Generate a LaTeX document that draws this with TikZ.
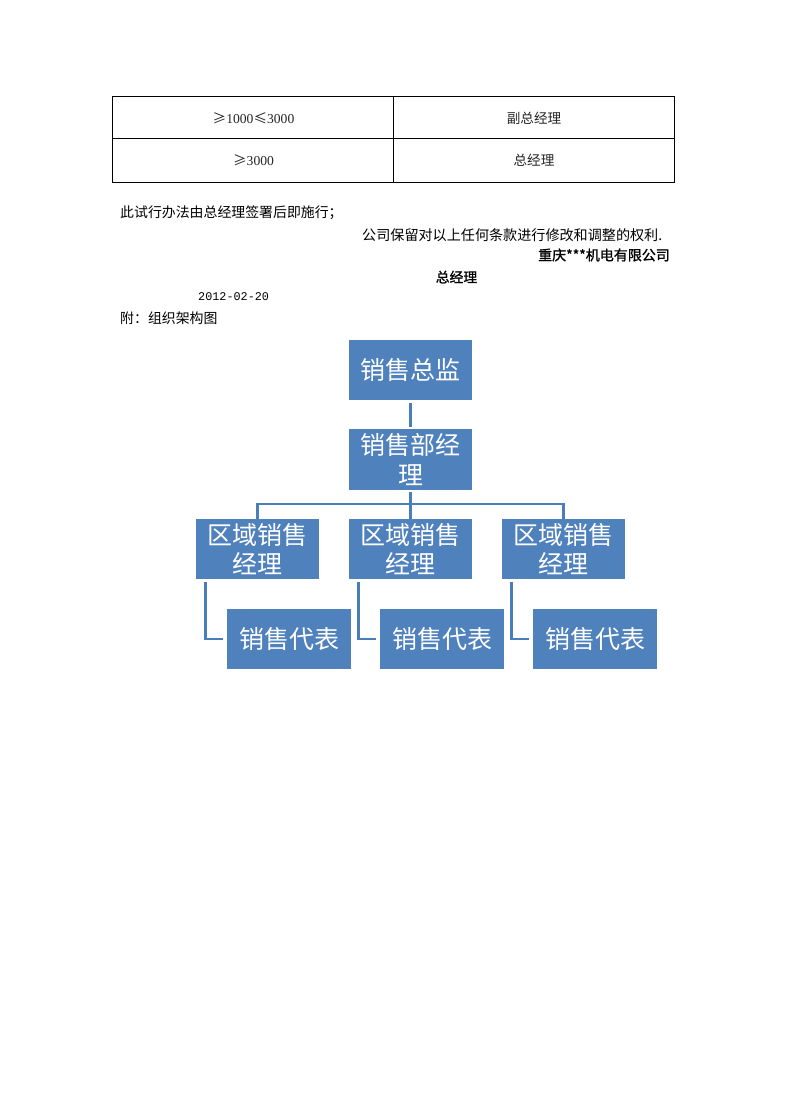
\documentclass[tikz,border=0pt]{standalone}
\usepackage{fontspec}
\setmainfont{Liberation Serif}
\newfontfamily\cjk{Noto Sans CJK SC}
\newfontfamily\cjkb[FakeBold=1.2]{Noto Sans CJK SC}
\newfontfamily\monodig{Liberation Mono}
\definecolor{boxblue}{HTML}{4F81BD}
\definecolor{lineblue}{HTML}{4A7EBB}
\begin{document}
\begin{tikzpicture}[x=1pt,y=-1pt,
  box/.style={fill=boxblue, draw=none, minimum width=123pt, minimum height=60pt, inner sep=0pt,
    text=white, align=center, font=\cjk\fontsize{25}{29.5}\selectfont},
  conn/.style={draw=lineblue, line width=2.8pt},
  tab/.style={draw=black, line width=0.8pt},
  txt/.style={inner sep=0pt, font=\cjk\fontsize{13.9}{16}\selectfont},
  celltxt/.style={inner sep=0pt, font=\cjk\fontsize{13.6}{15}\selectfont, text=black!85}
]
\useasboundingbox[fill=white] (0,0) rectangle (790,1118);

% table
\draw[tab] (112,96) rectangle (674,182);
\draw[tab] (112,138) -- (674,138);
\draw[tab] (393,96) -- (393,182);
\node[celltxt] (c11) at (253.5,118) {≥{\rmfamily\fontsize{13.6}{15}\selectfont 1000}≤{\rmfamily\fontsize{13.6}{15}\selectfont 3000}};
\node[celltxt] (c12) at (534,118) {副总经理};
\node[celltxt] (c21) at (253.5,160) {≥{\rmfamily\fontsize{13.6}{15}\selectfont 3000}};
\node[celltxt] (c22) at (534,160) {总经理};

% text lines
\node[txt, anchor=west] (t1) at (120,213) {此试行办法由总经理签署后即施行；};
\node[txt, anchor=west, font=\cjk\fontsize{14.1}{16}\selectfont] (t2) at (362,235) {公司保留对以上任何条款进行修改和调整的权利.};
\node[txt, anchor=east, font=\cjkb\fontsize{14}{16}\selectfont] (t3) at (670,255) {重庆***机电有限公司};
\node[txt, font=\cjkb\fontsize{13.8}{16}\selectfont] (t4) at (456.5,277) {总经理};
\node[txt, anchor=west, font=\monodig\fontsize{11.8}{14}\selectfont] (t5) at (198,297) {2012-02-20};
\node[txt, anchor=west] (t6) at (120,318) {附：组织架构图};

% org chart
\node[box] (b1) at (410.5,370) {销售总监};
\node[box, minimum height=61pt] (b2) at (410.5,459.5) {销售部经\\理};
\node[box] (b3a) at (257.5,549) {区域销售\\经理};
\node[box] (b3b) at (410.5,549) {区域销售\\经理};
\node[box] (b3c) at (563.5,549) {区域销售\\经理};
\node[box, minimum width=124pt] (b4a) at (289,639) {销售代表};
\node[box, minimum width=124pt] (b4b) at (442,639) {销售代表};
\node[box, minimum width=124pt] (b4c) at (595,639) {销售代表};
\coordinate (bar) at (410.5,504);

\draw[conn, shorten <=3pt, shorten >=2pt] (b1.south) -- (b2.north);
\draw[conn, shorten <=2pt] (b2.south) -- (b3b.north);
\draw[conn] (b3a.north) |- (bar) -| (b3c.north);
\draw[conn, shorten <=3pt, shorten >=4pt] ([xshift=10pt]b3a.south west) |- (b4a.west);
\draw[conn, shorten <=3pt, shorten >=4pt] ([xshift=10pt]b3b.south west) |- (b4b.west);
\draw[conn, shorten <=3pt, shorten >=4pt] ([xshift=10pt]b3c.south west) |- (b4c.west);
\end{tikzpicture}
\end{document}
